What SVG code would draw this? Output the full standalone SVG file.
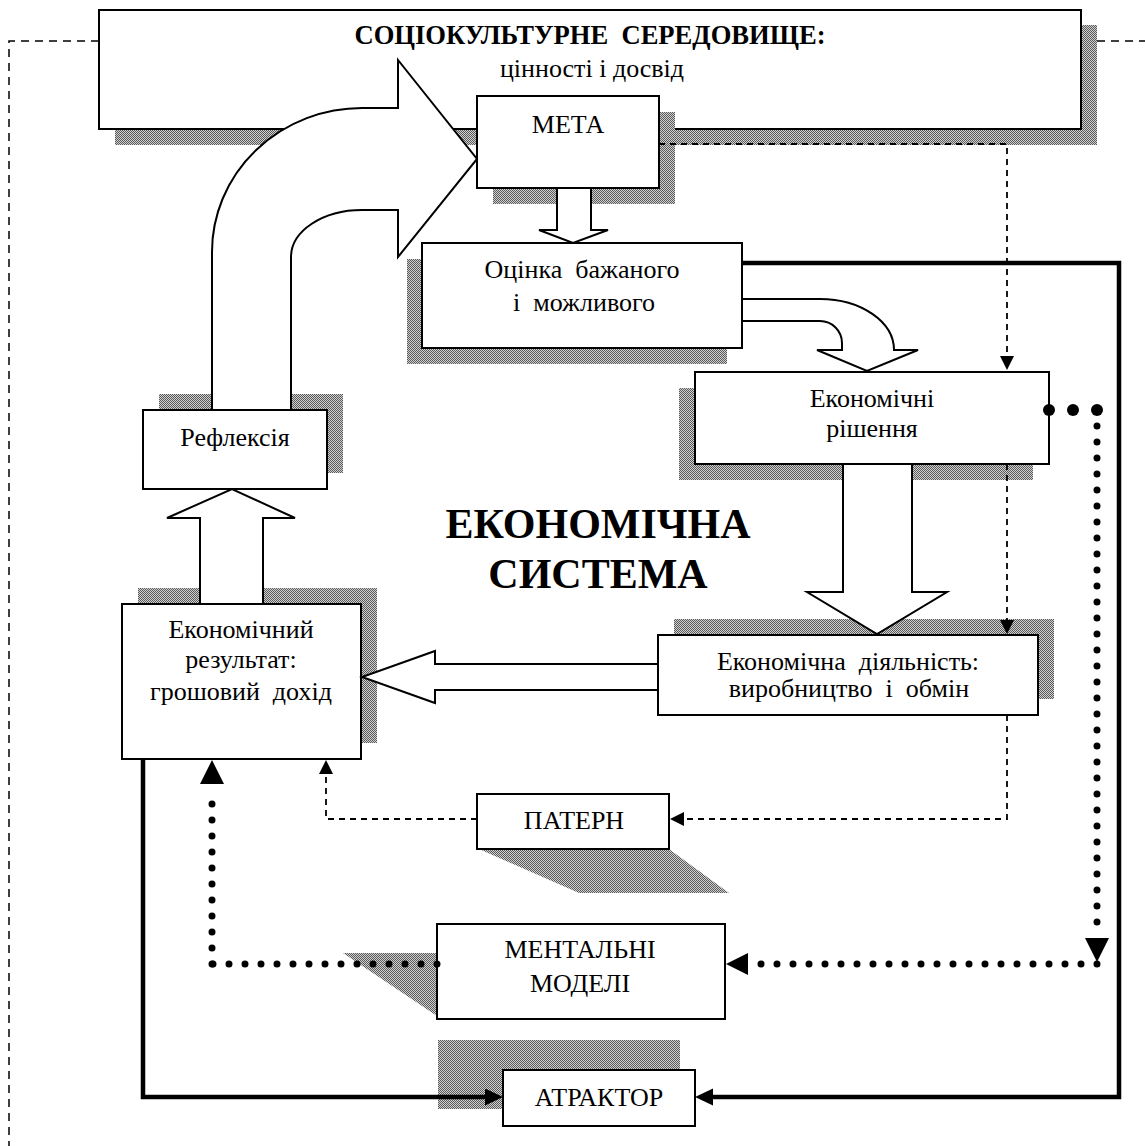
<svg xmlns="http://www.w3.org/2000/svg" width="1145" height="1146" viewBox="0 0 1145 1146">
<defs>
<pattern id="shade" width="2" height="2" patternUnits="userSpaceOnUse"><rect width="2" height="2" fill="#d0d0d0"/><rect width="1" height="1" fill="#5a5a5a"/><rect x="1" y="1" width="1" height="1" fill="#5a5a5a"/></pattern>
<marker id="thick" markerUnits="userSpaceOnUse" markerWidth="20" markerHeight="20" refX="0" refY="8.5" orient="auto"><path d="M0,0 L18,8.5 L0,17 Z" fill="#000"/></marker>
<marker id="small" markerUnits="userSpaceOnUse" markerWidth="16" markerHeight="16" refX="0" refY="7" orient="auto"><path d="M0,0 L14,7 L0,14 Z" fill="#000"/></marker>
</defs>
<style>
.box{fill:#fff;stroke:#000;stroke-width:2}
.sh{fill:url(#shade)}
text{white-space:pre;font-family:"Liberation Serif","Times New Roman",serif}
.t{font-size:26px;text-anchor:middle;fill:#000}
.b{font-weight:bold;font-size:26.6px}
.big{font-size:42px;font-weight:bold;text-anchor:middle}
.blk{fill:#fff;stroke:#000;stroke-width:2;stroke-linejoin:miter}
.dash{fill:none;stroke:#000;stroke-width:1.8;stroke-dasharray:6 5}
.frame{fill:none;stroke:#000;stroke-width:1.5;stroke-dasharray:8 6}
.thk{fill:none;stroke:#000;stroke-width:4.5;stroke-linejoin:miter}
.dot{fill:none;stroke:#000;stroke-width:7;stroke-linecap:round;stroke-dasharray:0 16}
</style>

<g id="frame">
<path class="frame" d="M99,41 H9 V1146"/>
<path class="frame" d="M1097,41 H1145"/>
</g>

<g id="socio">
<rect class="sh" x="115" y="25" width="982" height="120"/>
<rect class="box" x="99" y="10" width="982" height="119"/>
<text class="t b" x="590" y="44">СОЦІОКУЛЬТУРНЕ&#160; СЕРЕДОВИЩЕ:</text>
<text class="t" x="592" y="77">цінності і досвід</text>
</g>

<g id="meta">
<rect class="sh" x="493" y="112" width="182" height="92"/>
<rect class="box" x="477" y="96" width="182" height="92"/>
<text class="t" x="568" y="133">МЕТА</text>
</g>

<g id="ocinka">
<rect class="sh" x="407" y="259" width="320" height="105"/>
<rect class="box" x="422" y="243" width="320" height="105"/>
<text class="t" x="582" y="278">Оцінка&#160; бажаного</text>
<text class="t" x="584" y="311">і&#160; можливого</text>
</g>

<g id="rishennia">
<rect class="sh" x="679" y="388" width="354" height="92"/>
<rect class="box" x="695" y="372" width="354" height="92"/>
<text class="t" x="872" y="407">Економічні</text>
<text class="t" x="872" y="437">рішення</text>
</g>

<g id="diialnist">
<rect class="sh" x="674" y="619" width="380" height="80"/>
<rect class="box" x="658" y="635" width="380" height="80"/>
<text class="t" x="848" y="670">Економічна&#160; діяльність:</text>
<text class="t" x="849" y="697">виробництво&#160; і&#160; обмін</text>
</g>

<g id="rezultat">
<rect class="sh" x="138" y="588" width="239" height="155"/>
<rect class="box" x="122" y="604" width="239" height="155"/>
<text class="t" x="241" y="638">Економічний</text>
<text class="t" x="241" y="668">результат:</text>
<text class="t" x="241" y="700">грошовий&#160; дохід</text>
</g>

<g id="refleksiia">
<rect class="sh" x="159" y="394" width="184" height="79"/>
<rect class="box" x="143" y="410" width="184" height="79"/>
<text class="t" x="235" y="446">Рефлексія</text>
</g>

<g id="patern">
<polygon class="sh" points="479,849 669,849 729,893 579,893"/>
<rect class="box" x="477" y="794" width="192" height="55"/>
<text class="t" x="574" y="829">ПАТЕРН</text>
</g>

<g id="mentalni">
<polygon class="sh" points="343,953 437,953 437,1016"/>
<rect class="box" x="437" y="924" width="288" height="95"/>
<text class="t" x="580" y="958">МЕНТАЛЬНІ</text>
<text class="t" x="580" y="992">МОДЕЛІ</text>
</g>

<g id="atraktor">
<rect class="sh" x="438" y="1040" width="242" height="69"/>
<rect class="box" x="503" y="1070" width="192" height="56"/>
<text class="t" x="599" y="1106">АТРАКТОР</text>
</g>

<g id="title">
<text class="big" x="598" y="538">ЕКОНОМІЧНА</text>
<text class="big" x="598" y="588">СИСТЕМА</text>
</g>

<g id="connectors">
<path class="blk" d="M212,410 V252 A150,144 0 0 1 362,108 H398 V60 L477,159 L398,257 V210 H362 A71,47 0 0 0 291,257 V410 Z"/>
<polygon class="blk" points="557,188 591,188 591,230 608,230 573,243 539,230 557,230"/>
<path class="blk" d="M742,299 H820 A74,51 0 0 1 894,350 H918 L867,371 L817,350 H842 V343 A22,22 0 0 0 820,321 H742 Z"/>
<polygon class="blk" points="843,464 912,464 912,592 947,592 877,634 807,592 843,592"/>
<polygon class="blk" points="658,664 435,664 435,651 362,677 435,703 435,690 658,690"/>
<polygon class="blk" points="200,604 200,518 167,518 232,489 295,518 263,518 263,604"/>

<path class="thk" d="M742,263 H1119 V1097 H713" marker-end="url(#thick)"/>
<path class="thk" d="M143,759 V1097 H485" marker-end="url(#thick)"/>

<path class="dash" d="M659,144 H1007 V356" marker-end="url(#small)"/>
<path class="dash" d="M1007,464 V620" marker-end="url(#small)"/>
<path class="dash" d="M1007,715 V819 H684" marker-end="url(#small)"/>
<path class="dash" d="M477,819 H326 V774" marker-end="url(#small)"/>

<circle cx="1049" cy="410" r="6"/>
<circle cx="1073" cy="410" r="6"/>
<circle cx="1097" cy="410" r="6"/>
<path class="dot" d="M1097,426 V938"/>
<polygon points="1085,938 1109,938 1097,962"/>
<path class="dot" d="M1097,964 H753"/>
<polygon points="748,953 726,964 748,975"/>
<path class="dot" d="M437,964 H212"/>
<path class="dot" d="M212,964 V788"/>
<polygon points="200,784 212,760 224,784"/>
</g>
</svg>
